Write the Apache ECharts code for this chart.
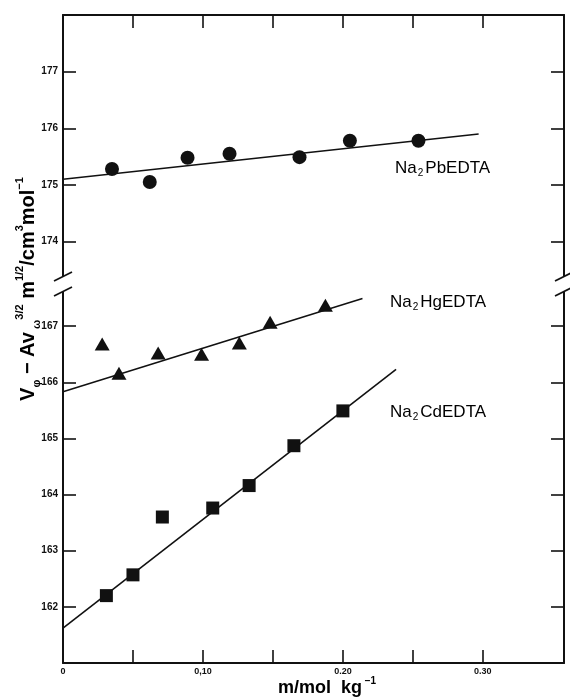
<!DOCTYPE html>
<html><head><meta charset="utf-8">
<script src="https://cdn.jsdelivr.net/npm/echarts@6/dist/echarts.min.js"></script>
<style>html,body{margin:0;padding:0;background:#fff}#c{width:570px;height:698px}</style>
</head><body><div id="c"></div>
<script>
// ---- data ----
const xTicks = [0.05, 0.10, 0.15, 0.20, 0.25, 0.30];
const xLabelValues = [0, 0.10, 0.20, 0.30];
const xLabelTexts = ['0', '0,10', '0.20', '0.30'];
const yTopTicks = [174, 175, 176, 177];
const yBottomTicks = [162, 163, 164, 165, 166, 167];

const pbM = [0.035, 0.062, 0.089, 0.119, 0.169, 0.205, 0.254];
const pbV = [175.28, 175.05, 175.48, 175.55, 175.49, 175.78, 175.78];
const hgM = [0.028, 0.040, 0.068, 0.099, 0.126, 0.148, 0.1875];
const hgV = [166.68, 166.16, 166.52, 166.50, 166.70, 167.07, 167.37];
const cdM = [0.031, 0.050, 0.071, 0.107, 0.133, 0.165, 0.200];
const cdV = [162.20, 162.57, 163.60, 163.76, 164.16, 164.87, 165.49];

const pbFitM = [0, 0.297];  const pbFitV = [175.10, 175.90];
const hgFitM = [0, 0.214];  const hgFitV = [165.83, 167.49];
const cdFitM = [0, 0.238];  const cdFitV = [161.62, 166.23];

const seriesNames = ['Na2PbEDTA', 'Na2HgEDTA', 'Na2CdEDTA'];

// ---- build ----
const zip = (a, b) => a.map((v, i) => [v, b[i]]);
const FONT = 'Liberation Sans, Arial, Helvetica, sans-serif';
const INK = '#111';

function xAxisDef(grid, pos, labels) {
  return {
    type: 'value', gridIndex: grid, position: pos, min: 0, max: 0.358,
    axisLine: { show: true, onZero: false, lineStyle: { color: INK, width: 2 } },
    axisTick: { show: true, inside: true, length: 13, customValues: xTicks, lineStyle: { color: INK, width: 1.6 } },
    axisLabel: labels ? {
      show: true, customValues: xLabelValues, margin: 4,
      fontSize: 9, fontWeight: 'bold', fontFamily: FONT, color: INK,
      formatter: v => { const i = xLabelValues.findIndex(x => Math.abs(x - v) < 1e-9); return i >= 0 ? xLabelTexts[i] : ''; }
    } : { show: false },
    splitLine: { show: false }
  };
}
function yAxisDef(grid, pos, min, max, ticks, labels) {
  return {
    type: 'value', gridIndex: grid, position: pos, min: min, max: max,
    axisLine: { show: true, onZero: false, lineStyle: { color: INK, width: 2 } },
    axisTick: { show: true, inside: true, length: 13, customValues: ticks, lineStyle: { color: INK, width: 1.6 } },
    axisLabel: labels ? {
      show: true, customValues: ticks, margin: 5,
      fontSize: 10, fontWeight: 'bold', fontFamily: FONT, color: INK
    } : { show: false },
    splitLine: { show: false }
  };
}
function sub2(name) { // "Na2PbEDTA" -> rich
  return '{b|Na}{s|2}{b|' + name.slice(3) + '}';
}
const labelRich = {
  b: { fontSize: 17, fontFamily: FONT, color: INK, lineHeight: 20 },
  s: { fontSize: 10, fontFamily: FONT, color: INK, verticalAlign: 'bottom', lineHeight: 20, padding: [0, 2, 0, 1] }
};
const dot = { color: INK, opacity: 1 };

const option = {
  animation: false,
  backgroundColor: '#fff',
  grid: [
    { left: 63, right: 6, top: 15, height: 269 },
    { left: 63, right: 6, top: 284, height: 379 }
  ],
  xAxis: [ xAxisDef(0, 'top', false), xAxisDef(1, 'bottom', true) ],
  yAxis: [
    yAxisDef(0, 'left', 173.25, 178, yTopTicks, true),
    yAxisDef(0, 'right', 173.25, 178, yTopTicks, false),
    yAxisDef(1, 'left', 161, 167.75, yBottomTicks, true),
    yAxisDef(1, 'right', 161, 167.75, yBottomTicks, false)
  ],
  series: [
    { name: seriesNames[0], type: 'scatter', xAxisIndex: 0, yAxisIndex: 0, data: zip(pbM, pbV),
      symbol: 'circle', symbolSize: 14, itemStyle: dot, z: 3 },
    { type: 'line', xAxisIndex: 0, yAxisIndex: 0, data: zip(pbFitM, pbFitV), showSymbol: false,
      lineStyle: { color: INK, width: 1.6 } },
    { name: seriesNames[1], type: 'scatter', xAxisIndex: 1, yAxisIndex: 2, data: zip(hgM, hgV),
      symbol: 'triangle', symbolSize: [15, 13], itemStyle: dot, z: 3 },
    { type: 'line', xAxisIndex: 1, yAxisIndex: 2, data: zip(hgFitM, hgFitV), showSymbol: false,
      lineStyle: { color: INK, width: 1.6 } },
    { name: seriesNames[2], type: 'scatter', xAxisIndex: 1, yAxisIndex: 2, data: zip(cdM, cdV),
      symbol: 'rect', symbolSize: 13, itemStyle: dot, z: 3 },
    { type: 'line', xAxisIndex: 1, yAxisIndex: 2, data: zip(cdFitM, cdFitV), showSymbol: false,
      lineStyle: { color: INK, width: 1.6 } }
  ],
  graphic: [
    // axis break masks and marks
    { type: 'rect', z: 100, shape: { x: 58, y: 277, width: 10, height: 15 }, style: { fill: '#fff' } },
    { type: 'rect', z: 100, shape: { x: 559, y: 277, width: 10, height: 15 }, style: { fill: '#fff' } },
    { type: 'line', z: 101, shape: { x1: 54, y1: 281, x2: 72, y2: 272 }, style: { stroke: INK, lineWidth: 1.8 } },
    { type: 'line', z: 101, shape: { x1: 54, y1: 296, x2: 72, y2: 287 }, style: { stroke: INK, lineWidth: 1.8 } },
    { type: 'line', z: 101, shape: { x1: 555, y1: 281, x2: 573, y2: 272 }, style: { stroke: INK, lineWidth: 1.8 } },
    { type: 'line', z: 101, shape: { x1: 555, y1: 296, x2: 573, y2: 287 }, style: { stroke: INK, lineWidth: 1.8 } },
    // series labels
    { type: 'text', z: 50, x: 395, y: 168, style: { text: sub2(seriesNames[0]), rich: labelRich, align: 'left', verticalAlign: 'middle' } },
    { type: 'text', z: 50, x: 390, y: 302, style: { text: sub2(seriesNames[1]), rich: labelRich, align: 'left', verticalAlign: 'middle' } },
    { type: 'text', z: 50, x: 390, y: 412, style: { text: sub2(seriesNames[2]), rich: labelRich, align: 'left', verticalAlign: 'middle' } },
    // y axis title
    { type: 'text', z: 50, x: 28, y: 289, rotation: Math.PI / 2,
      style: {
        text: '{b|V}{sub|φ}{b| − Av}{sub| ω}{sup|3/2}{b| m}{sup|1/2}{b|/cm}{sup|3}{b|mol}{sup|−1}',
        align: 'center', verticalAlign: 'middle',
        rich: {
          b: { fontSize: 20, fontWeight: 'bold', fontFamily: FONT, color: INK, lineHeight: 28 },
          sub: { fontSize: 11, fontWeight: 'bold', fontFamily: FONT, color: INK, lineHeight: 28, verticalAlign: 'bottom' },
          sup: { fontSize: 11, fontWeight: 'bold', fontFamily: FONT, color: INK, lineHeight: 28, verticalAlign: 'top' }
        }
      } },
    // x axis title
    { type: 'text', z: 50, x: 327, y: 688,
      style: {
        text: '{b|m/mol  kg}{sup| −1}',
        align: 'center', verticalAlign: 'middle',
        rich: {
          b: { fontSize: 18, fontWeight: 'bold', fontFamily: FONT, color: INK, lineHeight: 24 },
          sup: { fontSize: 10, fontWeight: 'bold', fontFamily: FONT, color: INK, lineHeight: 24, verticalAlign: 'top' }
        }
      } }
  ]
};
const chart = echarts.init(document.getElementById('c'), null, { renderer: 'canvas' });
chart.setOption(option);
</script></body></html>
